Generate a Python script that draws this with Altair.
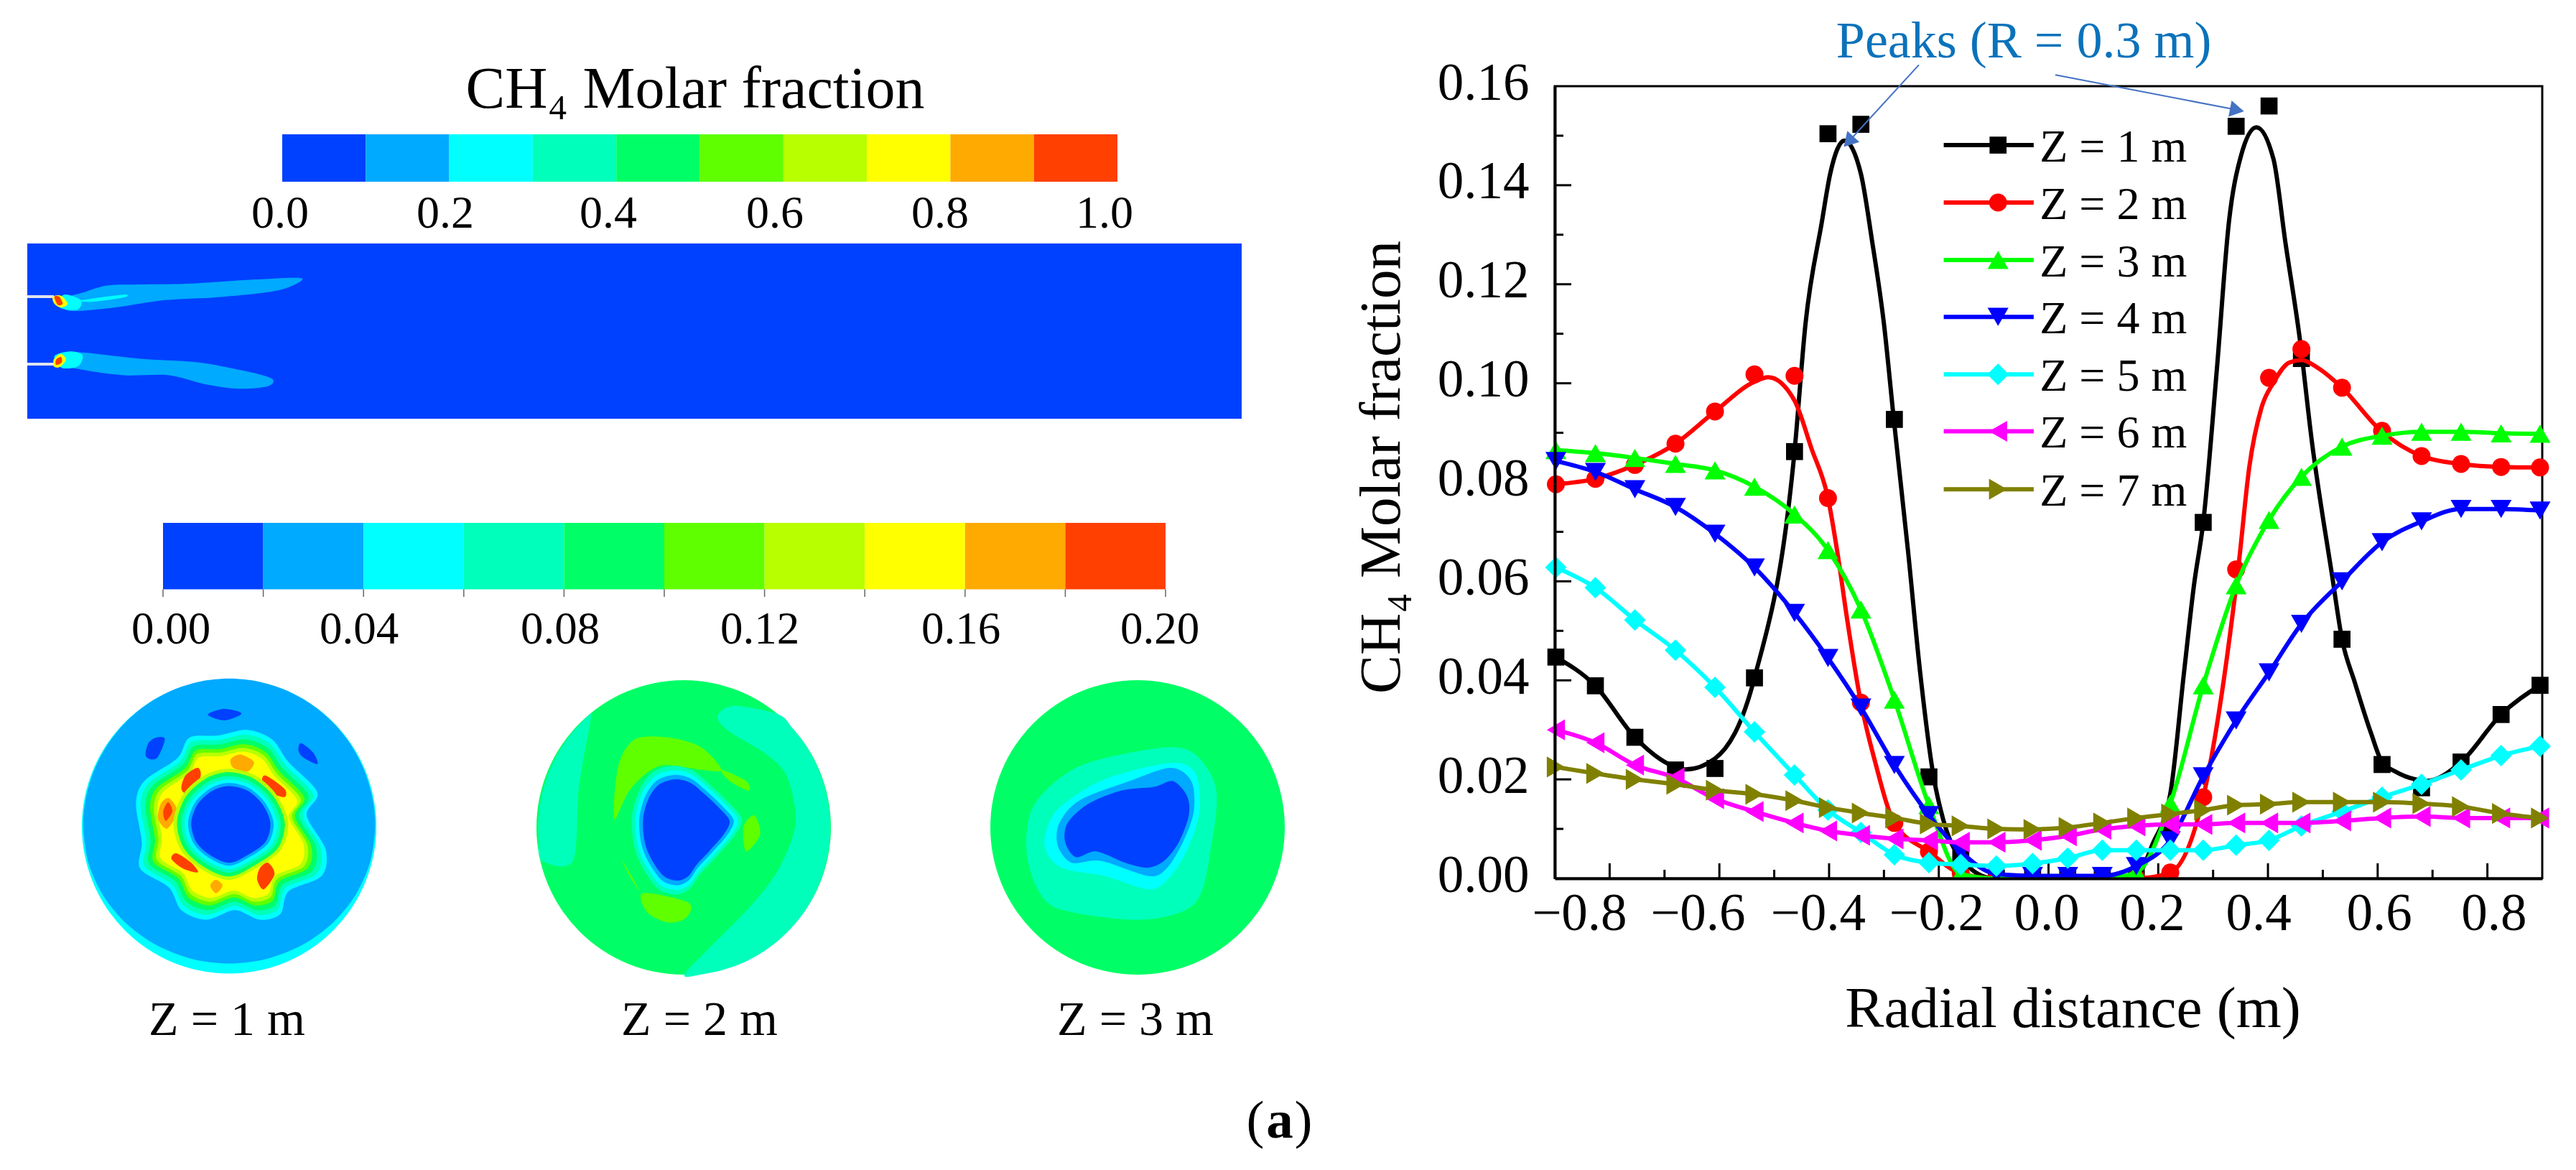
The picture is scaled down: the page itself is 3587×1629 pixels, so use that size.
import math
import altair as alt
import pandas as pd

FONT = "Liberation Serif"
W_LEFT = 1855
W_PLOT = 1375
H_PLOT = 1103

# ---------- radial profiles ----------
r = [-0.898, -0.826, -0.754, -0.680, -0.608, -0.536, -0.463, -0.402, -0.342, -0.281, -0.218, -0.160, -0.095, -0.029,
     0.035, 0.098, 0.160, 0.222, 0.282, 0.342, 0.402, 0.461, 0.535, 0.608, 0.680, 0.752, 0.825, 0.896]
z1 = [.0447, .0389, .0285, .0219, .0222, .0405, .0862, .1504, .1523, .0927, .0205, .004, 0, 0,
      0, 0, 0, .0105, .0719, .1519, .1560, .1050, .0483, .0230, .0183, .0235, .0331, .0390]
z2 = [.0796, .0807, .0835, .0878, .0943, .1018, .1015, .0768, .0355, .0112, .0054, .001, 0, 0,
      0, 0, 0, .0012, .0164, .0624, .1011, .1069, .0991, .0904, .0853, .0837, .0831, .0830]
z3 = [.0865, .0859, .0849, .0837, .0824, .0791, .0735, .0663, .0543, .0361, .0148, .0009, 0, 0,
      0, 0, .0012, .0151, .0390, .0592, .0724, .0811, .0872, .0894, .0902, .0902, .0899, .0898]
z4 = [.0843, .0821, .0786, .0750, .0696, .0628, .0536, .0445, .0345, .0229, .0128, .0054, .0009, .0005,
      .0005, .0005, .0025, .0077, .0206, .0319, .0416, .0514, .0600, .0679, .0721, .0746, .0746, .0743]
z5 = [.0628, .0587, .0522, .0461, .0386, .0296, .0209, .0138, .0093, .0048, .0032, .0028, .0025, .0030,
      .0041, .0057, .0057, .0057, .0057, .0067, .0077, .0106, .0135, .0164, .0190, .0219, .0248, .0267]
z6 = [.0300, .0274, .0229, .0203, .0161, .0135, .0112, .0096, .0087, .0080, .0077, .0073, .0073, .0077,
      .0086, .0099, .0106, .0109, .0109, .0112, .0112, .0112, .0116, .0122, .0125, .0122, .0122, .0122]
z7 = [.0225, .0212, .0200, .0190, .0178, .0170, .0157, .0143, .0132, .0122, .0110, .0106, .0100, .0099,
      .0103, .0112, .0122, .0130, .0138, .0148, .0150, .0154, .0154, .0154, .0151, .0145, .0131, .0122]

curve1_r = [-.898, -.826, -.754, -.68, -.661, -.608, -.536, -.463, -.443, -.413, -.398, -.372, -.342, -.322, -.300,
            -.282, -.256, -.234, -.21, -.192, -.16, -.10, 0, .1, .16, .19, .222, .247, .265, .282, .307, .329, .351,
            .379, .41, .432, .458, .48, .517, .535, .558, .588, .608, .632, .669, .69, .752, .825, .896]
curve1_v = [.0447, .0389, .0285, .0225, .0220, .0242, .0405, .0862, .112, .1327, .1423, .149, .1423, .129, .112,
            .0927, .066, .0416, .0209, .0119, .004, 0, 0, 0, .0005, .007, .0171, .0416, .0591, .0719, .103, .1327, .146,
            .1517, .1453, .1283, .109, .0883, .0611, .0483, .0397, .0293, .0235, .0216, .02, .0197, .0235, .0331, .039]
curve2_r = [-.898, -.826, -.754, -.68, -.608, -.536, -.511, -.463, -.432, -.402, -.383, -.368, -.342, -.316, -.281,
            -.218, -.16, -.095, 0, .16, .222, .282, .347, .366, .388, .41, .439, .461, .491, .535, .606, .68, .752, .825, .896]
curve2_v = [.0796, .0807, .0835, .0878, .0943, .1003, .1012, .0965, .0868, .0768, .0645, .0530, .0355, .0235, .0112,
            .0054, .001, 0, 0, 0, .0012, .0164, .0638, .0831, .095, .1001, .1042, .1047, .1031, .0991, .0904, .0853, .0837, .0831, .083]

series_names = ["Z = 1 m", "Z = 2 m", "Z = 3 m", "Z = 4 m", "Z = 5 m", "Z = 6 m", "Z = 7 m"]
series_vals = [z1, z2, z3, z4, z5, z6, z7]
series_cols = ["#000000", "#ff0000", "#00ff00", "#0000ff", "#00ffff", "#ff00ff", "#808000"]
series_shapes = ["square", "circle", "triangle-up", "triangle-down", "diamond", "triangle-left", "triangle-right"]
series_sizes = [560, 625, 850, 850, 900, 850, 850]

x_major = [-0.8, -0.6, -0.4, -0.2, 0.0, 0.2, 0.4, 0.6, 0.8]
x_minor = [-0.7, -0.5, -0.3, -0.1, 0.1, 0.3, 0.5, 0.7]
y_major = [0.0, 0.02, 0.04, 0.06, 0.08, 0.10, 0.12, 0.14, 0.16]
y_minor = [0.01, 0.03, 0.05, 0.07, 0.09, 0.11, 0.13, 0.15]
x_labels = ["−0.8", "−0.6", "−0.4", "−0.2", "0.0", "0.2", "0.4", "0.6", "0.8"]
x_label_at = [-0.855, -0.639, -0.420, -0.204, -0.003, 0.189, 0.383, 0.603, 0.812]

legend_v = [.1481, .1365, .1249, .1134, .1018, .0903, .0786]

xs = alt.Scale(domain=[-0.9, 0.9], nice=False, zero=False)
ys = alt.Scale(domain=[0, 0.16], nice=False, zero=False)
X = alt.X("r:Q", scale=xs)
Y = alt.Y("v:Q", scale=ys)

axis_x = alt.Axis(values=x_major, labels=False, ticks=False, grid=False, title="Radial distance (m)", domainColor="black",
                  domainWidth=4, titleFont=FONT, titleFontSize=81, titleFontWeight="normal", titleColor="black",
                  titleX=721, titleY=206, titleBaseline="alphabetic", titleAlign="center", zindex=1)
axis_y = alt.Axis(values=y_major, format=".2f", ticks=False, grid=False, title="CH₄ Molar fraction", labelFont=FONT,
                  labelFontSize=73, labelColor="black", labelPadding=36, labelOffset=-4, labelFlush=False, domainColor="black",
                  domainWidth=4, titleFont=FONT, titleFontSize=81, titleFontWeight="normal", titleColor="black",
                  titleX=-217, titleY=530, titleBaseline="alphabetic", titleAlign="center", titleAngle=270, zindex=1)

layers = []
layers.append(alt.Chart(pd.DataFrame({"r": [-0.9], "v": [0.0]})).mark_point(opacity=0).encode(x=alt.X("r:Q", scale=xs, axis=axis_x),
                                                                                             y=alt.Y("v:Q", scale=ys, axis=axis_y)))
layers.append(alt.Chart(pd.DataFrame({"a": [0]})).mark_rule(opacity=0).encode(x=alt.value(-300), x2=alt.value(0), y=alt.value(-110)))
for vals, length in ((y_major[1:-1], 23), (y_minor, 12)):
    layers.append(alt.Chart(pd.DataFrame({"v": vals})).mark_rule(color="black", strokeWidth=3).encode(
        y=Y, x=alt.value(0), x2=alt.value(length)))
for vals, length in ((x_major, 21), (x_minor, 12)):
    layers.append(alt.Chart(pd.DataFrame({"r": vals})).mark_rule(color="black", strokeWidth=3).encode(
        x=X, y=alt.value(H_PLOT), y2=alt.value(H_PLOT - length)))

for i, (name, vals, col, shp, sz) in enumerate(zip(series_names, series_vals, series_cols, series_shapes, series_sizes)):
    if i == 0:
        ldf = pd.DataFrame({"r": curve1_r, "v": curve1_v})
    elif i == 1:
        ldf = pd.DataFrame({"r": curve2_r, "v": curve2_v})
    else:
        ldf = pd.DataFrame({"r": r, "v": vals})
    layers.append(alt.Chart(ldf).mark_line(color=col, strokeWidth=6, interpolate="monotone").encode(x=X, y=Y, order="r:Q"))
    layers.append(alt.Chart(pd.DataFrame({"r": r, "v": vals})).mark_point(
        color=col, fill=col, filled=True, opacity=1, shape=shp, size=sz, strokeWidth=0).encode(x=X, y=Y))

layers.append(alt.Chart(pd.DataFrame({"a": [0]})).mark_rect(color="white").encode(
    x=alt.value(-20), x2=alt.value(W_PLOT + 20), y=alt.value(H_PLOT + 1), y2=alt.value(H_PLOT + 18)))

# x tick labels
layers.append(alt.Chart(pd.DataFrame({"r": x_label_at, "t": x_labels})).mark_text(
    font=FONT, fontSize=73, align="center", baseline="alphabetic", color="black").encode(
    x=X, y=alt.value(H_PLOT + 72), text="t:N"))

for name, v, col, shp, sz in zip(series_names, legend_v, series_cols, series_shapes, series_sizes):
    layers.append(alt.Chart(pd.DataFrame({"r": [-0.191, -0.027], "v": [v, v]})).mark_line(color=col, strokeWidth=6).encode(x=X, y=Y))
    layers.append(alt.Chart(pd.DataFrame({"r": [-0.092], "v": [v]})).mark_point(
        color=col, fill=col, filled=True, opacity=1, shape=shp, size=sz, strokeWidth=0).encode(x=X, y=Y))
    layers.append(alt.Chart(pd.DataFrame({"r": [-0.016], "v": [v], "t": [name]})).mark_text(
        font=FONT, fontSize=64, align="left", baseline="middle", color="black", dy=4).encode(x=X, y=Y, text="t:N"))

ANN = "#0b72ba"
ARROW = "#4472c4"
layers.append(alt.Chart(pd.DataFrame({"r": [-0.045], "v": [.1658], "t": ["Peaks (R = 0.3 m)"]})).mark_text(
    font=FONT, fontSize=72, align="center", baseline="alphabetic", color=ANN).encode(x=X, y=Y, text="t:N"))
for (r0, v0, r1, v1, ang) in ((-.2363, .1643, -.3645, .1488, 222.5), (.0124, .1623, .3436, .1552, 101)):
    layers.append(alt.Chart(pd.DataFrame({"r": [r0, r1], "v": [v0, v1], "o": [0, 1]})).mark_line(color=ARROW, strokeWidth=2).encode(x=X, y=Y, order="o:Q"))
    layers.append(alt.Chart(pd.DataFrame({"r": [r1], "v": [v1], "a": [ang]})).mark_point(
        color=ARROW, fill=ARROW, filled=True, opacity=1, shape="triangle-up", size=520, strokeWidth=0).encode(
        x=X, y=Y, angle=alt.Angle("a:Q", scale=None)))

right = alt.layer(*layers).properties(width=W_PLOT, height=H_PLOT, view=alt.ViewBackground(stroke="black", strokeWidth=3, fill="white"))

# ---------- left panels ----------
COL = ["#0041ff", "#00aaff", "#00ffff", "#00ffbb", "#00ff66", "#5fff00", "#b8ff00", "#ffff00", "#ffaa00", "#ff4000"]
BLUE, SKY, CYAN, TEAL, GREEN, LIME, YG, YEL, ORG, RED = COL

fx = alt.X("x:Q", scale=alt.Scale(domain=[8, 8 + W_LEFT], nice=False, zero=False), axis=None)
fy = alt.Y("y:Q", scale=alt.Scale(domain=[118 + H_PLOT, 118], nice=False, zero=False), axis=None)
fx2 = alt.X2("x2:Q")
fy2 = alt.Y2("y2:Q")

rects = [dict(x=38, x2=1729, y=337, y2=581, c=BLUE)]
bar1 = (393, 1556, 185, 251)
bar2 = (227, 1623, 726, 818.5)
for (a, b, t, u) in (bar1, bar2):
    for i, c in enumerate(COL):
        rects.append(dict(x=a + (b - a) * i / 10, x2=a + (b - a) * (i + 1) / 10, y=t, y2=u, c=c))
rects.append(dict(x=38, x2=75, y=409, y2=413, c="#dfe3ee"))
rects.append(dict(x=38, x2=75, y=503, y2=507, c="#dfe3ee"))
rect_layer = alt.Chart(pd.DataFrame(rects)).mark_rect().encode(x=fx, x2=fx2, y=fy, y2=fy2, color=alt.Color("c:N", scale=None))

tick_rows = [dict(x=bar2[0] + (bar2[1] - bar2[0]) * i / 10, y=818.5, y2=829) for i in range(11)]
tick_layer = alt.Chart(pd.DataFrame(tick_rows)).mark_rule(color="#666666", strokeWidth=1.5).encode(x=fx, y=fy, y2=fy2)

disc_rows = [dict(x=319, y=1148.5, c=CYAN), dict(x=952, y=1150, c=GREEN), dict(x=1584, y=1150, c=GREEN)]
disc_layer = alt.Chart(pd.DataFrame(disc_rows)).mark_circle(size=168100, opacity=1).encode(x=fx, y=fy, color=alt.Color("c:N", scale=None))

polys = []
def add(pts, col, conv):
    polys.append((pts, col, conv))

def nest(pts, cx, cy, f):
    return [(cx + (a - cx) * f, cy + (b - cy) * f) for a, b in pts]

def arc(cx, cy, rx, ry, a0, a1, n):
    return [(cx + rx * math.cos(math.radians(a0 + (a1 - a0) * i / (n - 1))),
             cy + ry * math.sin(math.radians(a0 + (a1 - a0) * i / (n - 1)))) for i in range(n)]

c1 = lambda p: (p[0] / 0.8711, p[1] / 1.96)
c2 = lambda p: (p[0] / 0.8711, 800 + p[1] / 1.891)

jet_up = [(70, 815), (100, 795), (130, 775), (175, 772), (230, 770), (300, 760), (365, 755), (350, 780), (320, 795), (260, 808), (200, 815), (140, 835), (90, 845), (75, 835)]
jet_lo = [(65, 985), (75, 960), (100, 958), (170, 975), (240, 985), (300, 1010), (330, 1030), (325, 1050), (290, 1057), (250, 1045), (205, 1020), (150, 1020), (100, 1005)]
add(jet_up, SKY, c1)
add(jet_lo, SKY, c1)
add([(100, 815), (150, 800), (150, 808), (110, 820)], CYAN, c1)
add([(78, 800), (98, 815), (95, 840), (78, 840), (68, 825)], CYAN, c1)
add([(66, 968), (85, 955), (100, 965), (95, 995), (75, 1000)], CYAN, c1)
add([(64, 806), (74, 803), (82, 825), (74, 835), (66, 825)], YEL, c1)
add([(66, 806), (72, 806), (76, 825), (70, 828)], RED, c1)
add([(66, 975), (74, 962), (80, 978), (72, 998), (65, 995)], YEL, c1)
add([(68, 978), (74, 970), (75, 985), (68, 992)], RED, c1)

# disc 1
d1_sky = arc(278, 659, 177, 389, 180, 360, 17) + arc(278, 659, 177, 361, 15, 165, 11)
add(d1_sky, SKY, c2)
for sp in ([(272, 350), (293, 362), (272, 380), (252, 365)], [(190, 425), (200, 430), (190, 480), (177, 475), (180, 440)], [(365, 440), (380, 465), (385, 495), (368, 478), (362, 460)]):
    add(sp, BLUE, c2)
d1_out = [(300, 405), (330, 430), (350, 490), (385, 570), (372, 630), (395, 720), (390, 790), (350, 830), (340, 890), (315, 905), (285, 880), (250, 905), (220, 880), (205, 820), (170, 770), (172, 700), (165, 600), (175, 540), (215, 480), (230, 425), (265, 420)]
for f, col in ((1, CYAN), (.95, TEAL), (.90, GREEN), (.85, LIME), (.81, YG), (.77, YEL)):
    add(nest(d1_out, 278, 655, f), col, c2)
for sp, col in (
    ([(292, 470), (308, 490), (300, 515), (283, 505), (280, 482)], ORG),
    ([(240, 505), (243, 530), (228, 572), (220, 560), (225, 525)], RED),
    ([(322, 525), (345, 560), (345, 582), (328, 570), (318, 545)], RED),
    ([(205, 585), (215, 620), (203, 665), (192, 640), (195, 600)], ORG),
    ([(204, 595), (209, 620), (201, 645), (198, 620)], RED),
    ([(214, 730), (232, 755), (240, 780), (222, 770), (208, 745)], RED),
    ([(325, 755), (333, 785), (320, 825), (312, 800), (315, 770)], RED),
    ([(262, 800), (270, 815), (262, 835), (255, 815)], ORG),
):
    add(sp, col, c2)
d1_hole = [(278, 553), (300, 565), (318, 600), (328, 650), (322, 700), (300, 735), (278, 755), (255, 735), (238, 700), (232, 650), (240, 600), (258, 565)]
for f, col in ((1.45, YG), (1.36, GREEN), (1.26, TEAL), (1.17, CYAN), (1.08, SKY), (1, BLUE)):
    add(nest(d1_hole, 280, 655, f), col, c2)

# disc 2
add(arc(830, 662, 177, 389, 167, 230, 8) + [(716, 385), (702, 560), (695, 750)], TEAL, c2)
add(arc(830, 662, 177, 389, -50, 90, 19) + [(860, 980), (910, 870), (945, 770), (965, 650), (955, 530), (930, 470), (885, 410), (870, 370), (890, 342)], TEAL, c2)
add([(745, 640), (750, 500), (770, 430), (810, 425), (850, 450), (875, 510), (850, 510), (800, 500), (765, 560)], LIME, c2)
add([(875, 510), (905, 540), (908, 565), (885, 540)], LIME, c2)
add([(915, 630), (922, 680), (905, 725), (902, 660)], LIME, c2)
add([(755, 750), (775, 825), (765, 795)], LIME, c2)
add([(780, 835), (835, 860), (832, 900), (810, 912), (785, 885)], LIME, c2)
d2_core = [(820, 535), (838, 545), (855, 575), (872, 610), (885, 645), (878, 680), (860, 725), (845, 760), (835, 790), (822, 802), (805, 790), (790, 745), (782, 700), (780, 640), (787, 585), (800, 548)]
for f, col in ((1.27, TEAL), (1.18, CYAN), (1.09, SKY), (1, BLUE)):
    add(nest(d2_core, 830, 665, f), col, c2)

# disc 3
add([(1410, 452), (1450, 470), (1475, 560), (1470, 700), (1450, 860), (1385, 905), (1290, 880), (1260, 830), (1245, 720), (1255, 600), (1310, 500)], TEAL, c2)
add([(1420, 492), (1450, 520), (1455, 620), (1440, 720), (1420, 790), (1395, 825), (1340, 790), (1290, 770), (1270, 730), (1268, 680), (1285, 610), (1340, 535)], CYAN, c2)
add([(1420, 505), (1445, 540), (1448, 620), (1435, 700), (1415, 770), (1393, 790), (1335, 750), (1300, 755), (1283, 710), (1285, 650), (1310, 590), (1370, 540)], SKY, c2)
add([(1423, 540), (1440, 580), (1442, 630), (1430, 700), (1412, 750), (1392, 768), (1365, 755), (1330, 725), (1305, 740), (1292, 700), (1295, 650), (1320, 600), (1360, 565), (1400, 555)], BLUE, c2)

poly_rows = []
for pid, (pts, col, conv) in enumerate(polys):
    for k, p in enumerate(pts):
        a, b = conv(p)
        poly_rows.append(dict(id=f"p{pid:03d}", k=k, x=a, y=b, c=col))
poly_layer = alt.Chart(pd.DataFrame(poly_rows)).mark_line(filled=True, interpolate="cardinal-closed", tension=0.1, strokeWidth=0).encode(
    x=fx, y=fy, detail="id:N", order="k:Q", fill=alt.Fill("c:N", scale=None))

texts = [dict(x=968, y=148, t="CH₄ Molar fraction", s=82)]
for lab, px in zip(["0.0", "0.2", "0.4", "0.6", "0.8", "1.0"], [390, 620, 847, 1079, 1309, 1538]):
    texts.append(dict(x=px, y=315, t=lab, s=64))
for lab, px in zip(["0.00", "0.04", "0.08", "0.12", "0.16", "0.20"], [238, 500, 780, 1058, 1338, 1615]):
    texts.append(dict(x=px, y=894, t=lab, s=63))
for lab, px in zip(["Z = 1 m", "Z = 2 m", "Z = 3 m"], [316, 974, 1581]):
    texts.append(dict(x=px, y=1439, t=lab, s=68))
texts.append(dict(x=1748, y=1582, t="(", s=75))
texts.append(dict(x=1815, y=1582, t=")", s=75))
text_layer = alt.Chart(pd.DataFrame(texts)).mark_text(font=FONT, align="center", baseline="alphabetic", color="black").encode(
    x=fx, y=fy, text="t:N", size=alt.Size("s:Q", scale=None))
panel_mark = alt.Chart(pd.DataFrame([dict(x=1782, y=1582, t="a")])).mark_text(
    font=FONT, fontSize=75, fontWeight="bold", align="center", baseline="alphabetic", color="black").encode(x=fx, y=fy, text="t:N")

left = alt.layer(rect_layer, tick_layer, disc_layer, poly_layer, text_layer, panel_mark).properties(
    width=W_LEFT, height=H_PLOT, view=alt.ViewBackground(stroke=None, strokeWidth=0, fill="white"))

chart = alt.hconcat(left, right, spacing=0, padding=0, bounds="full").configure(background="white")
chart.save("out.html", embed_options={"renderer": "svg", "actions": False})
